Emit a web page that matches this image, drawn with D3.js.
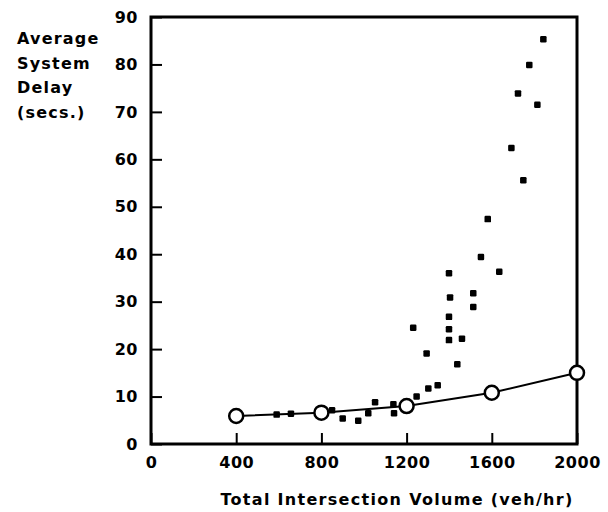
<!DOCTYPE html>
<html>
<head>
<meta charset="utf-8">
<script src="https://cdn.jsdelivr.net/npm/d3@7"></script>
<style>
  body { margin: 0; background: #fff; }
  text { font-family: "DejaVu Sans", sans-serif; font-weight: bold; }
</style>
</head>
<body>
<div id="chart"></div>
<script>
// model curve (open circles)
var modelVolume = [400, 800, 1200, 1600, 2000];
var modelDelay = [5.9, 6.6, 8.0, 10.8, 15.0];

// observed points (filled squares)
var obsVolume = [590, 657, 850, 900, 973, 1020, 1052, 1138, 1141, 1247, 1302, 1346, 1294, 1438,
                 1231, 1399, 1399, 1399, 1404, 1399, 1460, 1513, 1513, 1549, 1635, 1581,
                 1692, 1748, 1723, 1814, 1776, 1842];
var obsDelay = [6.2, 6.4, 7.1, 5.4, 4.9, 6.5, 8.8, 8.4, 6.5, 10.0, 11.7, 12.4, 19.1, 16.8,
                24.5, 36.0, 26.8, 24.2, 30.9, 21.9, 22.2, 31.8, 28.9, 39.4, 36.3, 47.4,
                62.4, 55.6, 73.9, 71.5, 79.9, 85.3];

var xTicks = [0, 400, 800, 1200, 1600, 2000];
var yTicks = [0, 10, 20, 30, 40, 50, 60, 70, 80, 90];
var yTitle = ["Average", "System", "Delay", "(secs.)"];
var xTitle = "Total Intersection Volume (veh/hr)";

var width = 608, height = 512;
var margin = {top: 17, left: 151, right: 31, bottom: 68};
var w = width - margin.left - margin.right,
    h = height - margin.top - margin.bottom;

var svg = d3.select("#chart").append("svg")
    .attr("width", width)
    .attr("height", height);

var g = svg.append("g")
    .attr("transform", "translate(" + margin.left + "," + margin.top + ")");

var x = d3.scaleLinear().domain([0, 2000]).range([0, w]);
var y = d3.scaleLinear().domain([0, 90]).range([h, 0]);

// axes with inward ticks
var yAxis = g.append("g")
    .call(d3.axisLeft(y).tickValues(yTicks).tickSize(-11).tickPadding(13).tickFormat(d3.format("d")));
var xAxis = g.append("g")
    .attr("transform", "translate(0," + h + ")")
    .call(d3.axisBottom(x).tickValues(xTicks).tickSize(-11).tickPadding(13).tickFormat(d3.format("d")));

[yAxis, xAxis].forEach(function(a) {
    a.select(".domain").remove();
    a.attr("font-family", null).attr("font-size", null);
    a.selectAll(".tick line").attr("stroke", "#000").attr("stroke-width", 2);
    a.selectAll(".tick text")
        .attr("fill", "#000")
        .style("font-size", "16px")
        .style("letter-spacing", "0.5px");
});

// frame
g.append("rect")
    .attr("x", 0).attr("y", 0)
    .attr("width", w).attr("height", h)
    .attr("fill", "none")
    .attr("stroke", "#000")
    .attr("stroke-width", 3);

// observed squares
var obs = obsVolume.map(function(v, i) { return {x: v, y: obsDelay[i]}; });
g.selectAll("rect.obs")
    .data(obs)
    .enter()
    .append("rect")
    .attr("class", "obs")
    .attr("x", d => x(d.x) - 3.25)
    .attr("y", d => y(d.y) - 3.25)
    .attr("width", 6.5)
    .attr("height", 6.5)
    .attr("rx", 1.2)
    .attr("fill", "#000");

// model line + circles
var model = modelVolume.map(function(v, i) { return {x: v, y: modelDelay[i]}; });
var line = d3.line()
    .x(d => x(d.x))
    .y(d => y(d.y));

g.append("path")
    .datum(model)
    .attr("d", line)
    .attr("fill", "none")
    .attr("stroke", "#000")
    .attr("stroke-width", 2);

g.selectAll("circle.model")
    .data(model)
    .enter()
    .append("circle")
    .attr("class", "model")
    .attr("cx", d => x(d.x))
    .attr("cy", d => y(d.y))
    .attr("r", 7)
    .attr("fill", "#fff")
    .attr("stroke", "#000")
    .attr("stroke-width", 2.5);

// titles
svg.append("text")
    .attr("x", margin.left + 246)
    .attr("y", 505)
    .attr("text-anchor", "middle")
    .style("font-size", "16px")
    .style("letter-spacing", "1.3px")
    .text(xTitle);

svg.selectAll("text.ytitle")
    .data(yTitle)
    .enter()
    .append("text")
    .attr("class", "ytitle")
    .attr("x", 17)
    .attr("y", (d, i) => 44 + i * 24.5)
    .style("font-size", "16px")
    .style("letter-spacing", "1.2px")
    .text(d => d);
</script>
</body>
</html>
